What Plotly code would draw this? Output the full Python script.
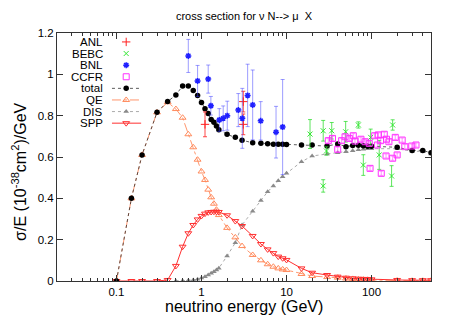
import math
import plotly.graph_objects as go

# ---------------- data ----------------
total_E = [0.1, 0.15, 0.2, 0.3, 0.4, 0.5, 0.6, 0.7, 0.8, 0.9, 1.0, 1.1, 1.2, 1.3, 1.4, 1.5, 1.6,
           2, 2.5, 3, 4, 5, 6, 7, 8, 9, 10, 15, 20, 30, 40, 50, 60, 70, 80, 90, 100, 200, 300, 400, 500]
total_v = [0.0, 0.40, 0.61, 0.816, 0.868, 0.90, 0.944, 0.944, 0.922, 0.898, 0.864, 0.833, 0.811, 0.782,
           0.768, 0.75, 0.732, 0.71, 0.695, 0.681, 0.669, 0.666, 0.664, 0.662, 0.662, 0.662, 0.661,
           0.658, 0.658, 0.653, 0.663, 0.65, 0.656, 0.657, 0.655, 0.652, 0.652, 0.647, 0.632, 0.632, 0.62]

qe_E = [0.1, 0.15, 0.2, 0.3, 0.4, 0.5, 0.6, 0.7, 0.8, 0.9, 1.0, 1.1, 1.2, 1.3, 1.4, 1.5, 1.6,
        2, 2.5, 3, 4, 5, 6, 7, 8, 9, 10, 15, 20, 30, 40, 50, 60, 70, 80, 90, 100, 200, 300, 400, 500]
qe_v = [0.0, 0.40, 0.61, 0.816, 0.865, 0.832, 0.79, 0.71, 0.647, 0.587, 0.53, 0.489, 0.442, 0.405,
        0.374, 0.345, 0.319, 0.257, 0.211, 0.169, 0.126, 0.10, 0.081, 0.069, 0.061, 0.056, 0.053,
        0.034, 0.024, 0.019, 0.016, 0.012, 0.010, 0.008, 0.007, 0.006, 0.005, 0.002, 0.001, 0.001, 0.001]

dis_E = [0.5, 0.6, 0.7, 0.8, 0.9, 1.0, 1.1, 1.2, 1.3, 1.4, 1.5, 1.6,
         2, 2.5, 3, 4, 5, 6, 7, 8, 9, 10, 15, 20, 30, 40, 50, 60, 70, 80, 90, 100, 200, 300, 400, 500]
dis_v = [0.0, 0.001, 0.003, 0.005, 0.009, 0.015, 0.021, 0.029, 0.037, 0.045, 0.053, 0.062,
         0.121, 0.185, 0.271, 0.338, 0.389, 0.432, 0.46, 0.485, 0.505, 0.521, 0.577, 0.605, 0.615,
         0.62, 0.625, 0.63, 0.635, 0.637, 0.64, 0.64, 0.64, 0.628, 0.627, 0.615]

spp_E = [0.1, 0.15, 0.2, 0.3, 0.4, 0.5, 0.6, 0.7, 0.8, 0.9, 1.0, 1.1, 1.2, 1.3, 1.4, 1.5, 1.6,
         2, 2.5, 3, 4, 5, 6, 7, 8, 9, 10, 15, 20, 30, 40, 50, 60, 70, 80, 90, 100, 200, 300, 400, 500]
spp_v = [0.0, 0.0, 0.0, 0.0, 0.005, 0.073, 0.166, 0.231, 0.271, 0.298, 0.315, 0.326, 0.332, 0.334,
         0.335, 0.335, 0.334, 0.318, 0.29, 0.266, 0.218, 0.179, 0.153, 0.135, 0.118, 0.11, 0.102,
         0.061, 0.040, 0.029, 0.021, 0.016, 0.013, 0.011, 0.010, 0.009, 0.008, 0.005, 0.004, 0.004, 0.004]

anl_E = [1.1, 3.1, 3.1]
anl_v = [0.758, 0.868, 0.758]
anl_err = [0.06, 0.05, 0.05]

bnl_E = [0.70, 0.90, 1.20, 1.29, 1.62, 1.80, 2.01, 2.71, 3.02, 3.49, 4.0, 4.97, 7.53, 9.0]
bnl_v = [1.089, 0.968, 0.977, 0.848, 0.779, 0.787, 0.80, 0.827, 0.787, 0.898, 0.852, 0.775, 0.72, 0.745]
bnl_err = [0.08, 0.075, 0.068, 0.045, 0.055, 0.06, 0.07, 0.08, 0.145, 0.151, 0.169, 0.093, 0.125, 0.23]

bebc_E = [18.9, 27, 34, 29.5, 27, 70, 49.6, 97.6, 80, 123, 177, 172]
bebc_v = [0.711, 0.727, 0.727, 0.629, 0.46, 0.755, 0.722, 0.695, 0.561, 0.61, 0.755, 0.508]
bebc_err = [0.07, 0.05, 0.04, 0.02, 0.03, 0.015, 0.05, 0.04, 0.05, 0.07, 0.025, 0.05]

ccfr_E = [31, 34.7, 40, 44.5, 48.8, 54.8, 61, 63.8, 75, 84, 94, 96, 109, 120, 117, 128, 141, 150,
          130, 148, 160, 177, 190, 200, 229, 246, 297, 333]
ccfr_v = [0.679, 0.69, 0.637, 0.679, 0.698, 0.69, 0.703, 0.677, 0.686, 0.674, 0.666, 0.545, 0.703,
          0.707, 0.658, 0.679, 0.71, 0.686, 0.521, 0.605, 0.674, 0.594, 0.695, 0.61, 0.682, 0.65,
          0.653, 0.658]
ccfr_err = [0.01] * len(ccfr_E)

legend_labels = ["ANL", "BEBC", "BNL", "CCFR", "total", "QE", "DIS", "SPP"]

# ---------------- styles ----------------
C_ANL = "#ff2020"
C_BEBC = "#33e833"
C_BNL = "#2020ff"
C_CCFR = "#ff30ff"
C_TOT = "#000000"
C_QE = "#ff8a5c"
C_DIS = "#8a8a8a"
C_SPP = "#ff3030"

styles = {
    "ANL": dict(mode="markers", marker=dict(symbol="cross-thin", size=6, line=dict(color=C_ANL, width=1)), line=None),
    "BEBC": dict(mode="markers", marker=dict(symbol="x-thin", size=5, line=dict(color=C_BEBC, width=1)), line=None),
    "BNL": dict(mode="markers", marker=dict(symbol="asterisk", size=5, line=dict(color=C_BNL, width=1.5)), line=None),
    "CCFR": dict(mode="markers", marker=dict(symbol="square-open", size=6, color=C_CCFR, line=dict(width=1)), line=None),
    "total": dict(mode="lines+markers", marker=dict(symbol="circle", size=5.5, color=C_TOT),
                  line=dict(color="#333", width=0.8, dash="dot")),
    "QE": dict(mode="lines+markers", marker=dict(symbol="triangle-up-open", size=6, color=C_QE, line=dict(width=1)),
               line=dict(color=C_QE, width=0.9, dash="dashdot")),
    "DIS": dict(mode="lines+markers", marker=dict(symbol="triangle-up", size=5, color=C_DIS),
                line=dict(color="#a0a0a0", width=0.9, dash="dot")),
    "SPP": dict(mode="lines+markers", marker=dict(symbol="triangle-down-open", size=6, color=C_SPP, line=dict(width=1)),
                line=dict(color=C_SPP, width=1)),
}

fig = go.Figure()

def add_series(name, xs, ys, err=None, errcolor=None):
    st = styles[name]
    kw = dict(x=xs, y=ys, mode=st["mode"], marker=st["marker"], showlegend=False, name=name, cliponaxis=True)
    if st["line"] is not None:
        kw["line"] = st["line"]
    if err is not None:
        kw["error_y"] = dict(type="data", array=err, visible=True, color=errcolor, thickness=1, width=2)
    fig.add_trace(go.Scatter(**kw))

add_series("DIS", dis_E, dis_v)
add_series("QE", qe_E, qe_v)
add_series("SPP", spp_E, spp_v)
add_series("total", total_E, total_v)
add_series("ANL", anl_E, anl_v, anl_err, "rgba(255,40,40,0.85)")
add_series("BEBC", bebc_E, bebc_v, bebc_err, "rgba(40,220,40,0.75)")
add_series("BNL", bnl_E, bnl_v, bnl_err, "rgba(60,60,255,0.5)")
add_series("CCFR", ccfr_E, ccfr_v, ccfr_err, "rgba(255,60,255,0.55)")

# ---------------- custom gnuplot-style key (text left, sample right) ----------------
key_text_x = 0.128
key_sym_x = 0.185
key_line_x0, key_line_x1 = 0.147, 0.225
key_top = 0.964
key_step = 0.0468
for i, name in enumerate(legend_labels):
    yk = key_top - i * key_step
    st = styles[name]
    if st["line"] is not None:
        fig.add_trace(go.Scatter(x=[key_line_x0, key_line_x1], y=[yk, yk], mode="lines", line=st["line"],
                                 xaxis="x2", yaxis="y2", showlegend=False, hoverinfo="skip"))
    fig.add_trace(go.Scatter(x=[key_sym_x], y=[yk], mode="markers", marker=st["marker"],
                             xaxis="x2", yaxis="y2", showlegend=False, hoverinfo="skip"))
    fig.add_annotation(x=key_text_x, y=yk, xref="paper", yref="paper", text=name, showarrow=False,
                       xanchor="right", yanchor="middle", font=dict(size=11.5, color="#000"))

minor_vals = [k * 10 ** p for p in range(-2, 3) for k in range(2, 10) if 0.02 < k * 10 ** p < 500]

# page body has an 8px default margin: figure is 442x307, plot area at x 57..431, y 33..281 of the window
W, H = 442, 307
fig.update_layout(
    width=W, height=H,
    margin=dict(l=49, r=19, t=25, b=34),
    paper_bgcolor="white", plot_bgcolor="white",
    font=dict(family="Liberation Sans, Arial, sans-serif", size=11, color="#000"),
    title=dict(text="cross section for ν N--> μ  X", x=0.5, xref="paper", y=1 - 8 / H, yref="container",
               xanchor="center", yanchor="middle", font=dict(size=11)),
    xaxis=dict(type="log", range=[math.log10(0.02), math.log10(500)], tickvals=[0.1, 1, 10, 100],
               ticktext=["0.1", "1", "10", "100"], ticks="inside", ticklen=6, tickcolor="#333",
               showline=True, linecolor="#333", linewidth=1, mirror="allticks", showgrid=False, zeroline=False,
               minor=dict(tickvals=minor_vals, ticks="inside", ticklen=3, tickcolor="#333", showgrid=False),
               tickfont=dict(size=11.5)),
    yaxis=dict(range=[0, 1.2], dtick=0.2, ticks="inside", ticklen=6, tickcolor="#333",
               showline=True, linecolor="#333", linewidth=1, mirror="allticks", showgrid=False, zeroline=False,
               tickfont=dict(size=11.5)),
    xaxis2=dict(overlaying="x", anchor="y2", range=[0, 1], visible=False),
    yaxis2=dict(overlaying="y", anchor="x2", range=[0, 1], visible=False),
    showlegend=False,
)

fig.add_annotation(x=0.5, y=(281 - 306) / 248, xref="paper", yref="paper", text="neutrino energy (GeV)",
                   showarrow=False, xanchor="center", yanchor="middle", font=dict(size=16))
fig.add_annotation(x=(19 - 57) / 374, y=0.44, xref="paper", yref="paper",
                   text="σ/E (10<sup>-38</sup>cm<sup>2</sup>)/GeV", textangle=-90,
                   showarrow=False, xanchor="center", yanchor="middle", font=dict(size=16))

fig.write_html("out.html")
